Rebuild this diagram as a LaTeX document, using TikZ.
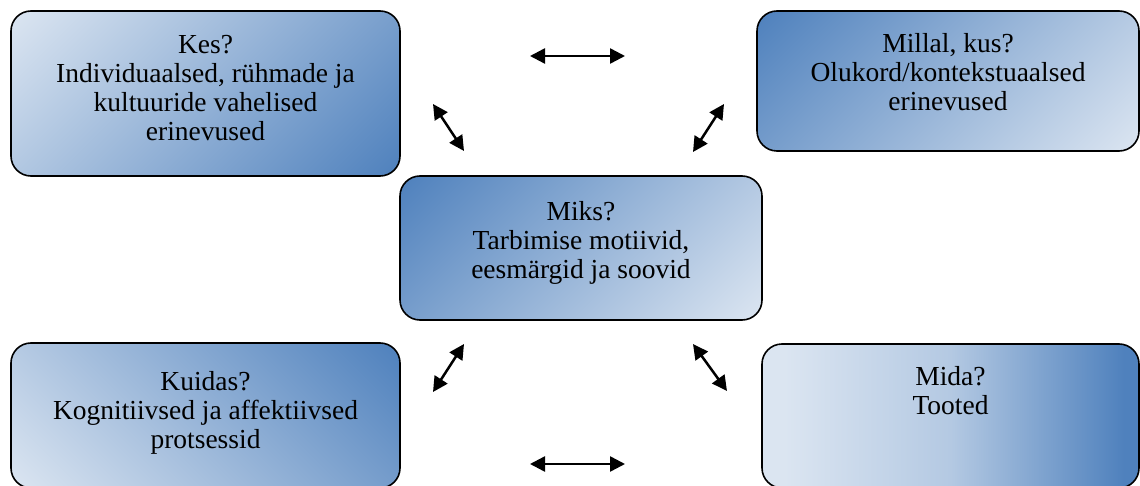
\documentclass[tikz,border=0pt]{standalone}
\usepackage{fontspec}
\setmainfont{Liberation Serif}
\usetikzlibrary{arrows.meta,positioning}
\definecolor{dk}{HTML}{4F81BD}
\definecolor{lt}{HTML}{DBE5F1}
\pgfdeclarehorizontalshading{ltdk}{100bp}{color(0bp)=(lt); color(28bp)=(lt); color(50bp)=(lt!72!dk); color(73bp)=(dk); color(100bp)=(dk)}
\pgfdeclarehorizontalshading{diaglt}{100bp}{color(0bp)=(lt); color(15bp)=(lt); color(85bp)=(dk); color(100bp)=(dk)}
\pgfdeclarehorizontalshading{diagdk}{100bp}{color(0bp)=(dk); color(15bp)=(dk); color(85bp)=(lt); color(100bp)=(lt)}
\tikzset{
  box/.style={draw=black, line width=1.6pt, rounded corners=20pt, inner sep=0pt},
  lbl/.style={anchor=north, inner sep=0pt, align=center, font=\fontsize{27.5}{29}\selectfont},
  dbl/.style={{Triangle[length=15pt,width=15pt]}-{Triangle[length=15pt,width=15pt]}, line width=2.5pt}
}
\begin{document}
\begin{tikzpicture}[x=1pt,y=-1pt]
\useasboundingbox (0,0) rectangle (1140,486);
% boxes
\draw[box, shading=diaglt, shading angle=-45] (11,11) rectangle (400,176);
\node[lbl] (kes) at (205.5,35) {Kes?\\Individuaalsed, rühmade ja\\kultuuride vahelised\\erinevused};
\draw[box, shading=diagdk, shading angle=-45] (757,11) rectangle (1139,151);
\node[lbl] (millal) at (948,33) {Millal, kus?\\Olukord/kontekstuaalsed\\erinevused};
\draw[box, shading=diagdk, shading angle=-45] (400,176) rectangle (762,320);
\node[lbl] (miks) at (581,201) {Miks?\\Tarbimise motiivid,\\eesmärgid ja soovid};
\draw[box, shading=diaglt, shading angle=45] (11,343) rectangle (400,488);
\node[lbl] (kuidas) at (205.5,371) {Kuidas?\\Kognitiivsed ja affektiivsed\\protsessid};
\draw[box, shading=ltdk] (762,344) rectangle (1139,488);
\node[lbl] (mida) at (950.5,366) {Mida?\\Tooted};
% arrows
\coordinate (a1) at (530,56); \coordinate (a2) at (625,56);
\coordinate (b1) at (433,104); \coordinate (b2) at (464,151);
\coordinate (c1) at (724,104); \coordinate (c2) at (693,152);
\coordinate (d1) at (464,344); \coordinate (d2) at (433,392);
\coordinate (e1) at (693,344); \coordinate (e2) at (727,391);
\coordinate (f1) at (530,464); \coordinate (f2) at (625,464);
\draw[dbl] (a1) -- (a2);
\draw[dbl] (b1) -- (b2);
\draw[dbl] (c1) -- (c2);
\draw[dbl] (d1) -- (d2);
\draw[dbl] (e1) -- (e2);
\draw[dbl] (f1) -- (f2);
\end{tikzpicture}
\end{document}
